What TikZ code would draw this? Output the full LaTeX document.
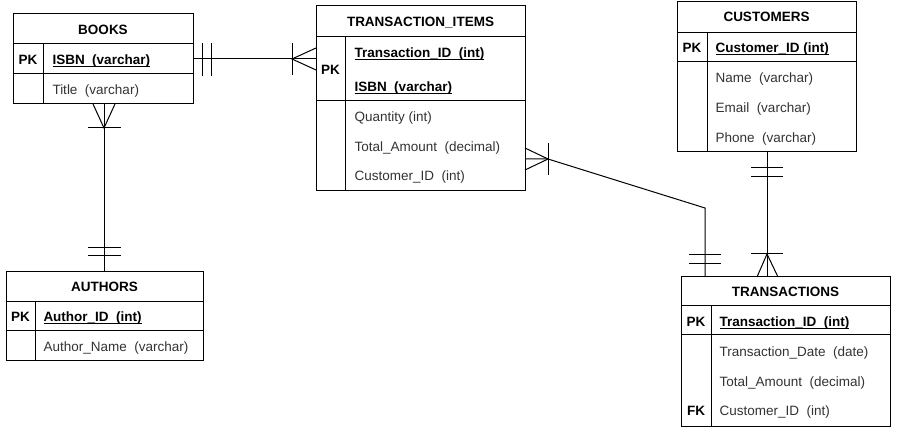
\documentclass[tikz,border=0pt]{standalone}
\usepackage{fontspec}
\setmainfont{Liberation Sans}
\newcommand{\ulk}[1]{\setbox0\hbox{#1}\rlap{\rule[-2pt]{\wd0}{0.9pt}}\box0}
\newcommand{\fsz}{\fontsize{13.5}{16}\selectfont}
\definecolor{fieldtxt}{HTML}{333333}
\begin{document}
\begin{tikzpicture}[x=1pt,y=-1pt,line width=1pt,
  tbl/.style={draw,line width=1pt,inner sep=0pt,outer sep=0pt,anchor=north west},
  hdr/.style={font=\fsz\bfseries,anchor=base,inner sep=0pt},
  pk/.style={font=\fsz\bfseries,anchor=base,inner sep=0pt},
  key/.style={font=\fsz\bfseries,anchor=base west,inner sep=0pt},
  fld/.style={font=\fsz,text=fieldtxt,anchor=base west,inner sep=0pt},
  rel/.style={draw,line width=1pt}]
\fill[white] (0,0) rectangle (907,427);

% ---------- BOOKS ----------
\node[tbl,minimum width=180pt,minimum height=90pt] (books) at (13,14) {};
\draw (13,44) -- (193,44);
\draw (13,74) -- (193,74);
\draw (43,44) -- (43,104);
\node[hdr] (booksh) at (103,34.5) {BOOKS};
\node[pk] (booksk) at (28,64.5) {PK};
\node[key] (books1) at (52,64.5) {\ulk{ISBN\ \ (varchar)}};
\node[fld] (books2) at (52,94.5) {Title\ \ (varchar)};

% ---------- TRANSACTION_ITEMS ----------
\node[tbl,minimum width=209pt,minimum height=185pt] (ti) at (316,6) {};
\draw (316,37) -- (525,37);
\draw (316,101) -- (525,101);
\draw (345,37) -- (345,191);
\node[hdr] (tih) at (420.5,26.5) {TRANSACTION\_ITEMS};
\node[pk] (tik) at (330.5,75) {PK};
\node[key] (ti1) at (354,57.5) {\ulk{Transaction\_ID\ \ (int)}};
\node[key] (ti2) at (354,92) {\ulk{ISBN\ \ (varchar)}};
\node[fld] (ti3) at (354,121.5) {Quantity (int)};
\node[fld] (ti4) at (354,151.5) {Total\_Amount\ \ (decimal)};
\node[fld] (ti5) at (354,181) {Customer\_ID\ \ (int)};

% ---------- CUSTOMERS ----------
\node[tbl,minimum width=179pt,minimum height=150pt] (cust) at (677,2) {};
\draw (677,33) -- (856,33);
\draw (677,62) -- (856,62);
\draw (707,33) -- (707,152);
\node[hdr] (custh) at (766.5,22) {CUSTOMERS};
\node[pk] (custk) at (692,52.5) {PK};
\node[key] (cust1) at (715,52.5) {\ulk{Customer\_ID (int)}};
\node[fld] (cust2) at (715,83) {Name\ \ (varchar)};
\node[fld] (cust3) at (715,113) {Email\ \ (varchar)};
\node[fld] (cust4) at (715,142.5) {Phone\ \ (varchar)};

% ---------- TRANSACTIONS ----------
\node[tbl,minimum width=209pt,minimum height=149pt] (trans) at (681,277) {};
\draw (681,306) -- (890,306);
\draw (681,335) -- (890,335);
\draw (711,306) -- (711,426);
\node[hdr] (transh) at (785.5,296.5) {TRANSACTIONS};
\node[pk] (transk) at (696,326.5) {PK};
\node[key] (trans1) at (719,326.5) {\ulk{Transaction\_ID\ \ (int)}};
\node[fld] (trans2) at (719,356.5) {Transaction\_Date\ \ (date)};
\node[fld] (trans3) at (719,386) {Total\_Amount\ \ (decimal)};
\node[pk] (transf) at (696,415.5) {FK};
\node[fld] (trans4) at (719,415.5) {Customer\_ID\ \ (int)};

% ---------- AUTHORS ----------
\node[tbl,minimum width=197pt,minimum height=88pt] (auth) at (6,272) {};
\draw (6,302) -- (203,302);
\draw (6,331) -- (203,331);
\draw (35,302) -- (35,360);
\node[hdr] (authh) at (104.5,291.5) {AUTHORS};
\node[pk] (authk) at (20.5,321.5) {PK};
\node[key] (auth1) at (43,321.5) {\ulk{Author\_ID\ \ (int)}};
\node[fld] (auth2) at (43,351.5) {Author\_Name\ \ (varchar)};

% ---------- BOOKS -- TRANSACTION_ITEMS ----------
\coordinate (r1) at (0,59);
\coordinate (a1) at (books.east |- r1);
\coordinate (b1) at (ti.west |- r1);
\draw[rel] (a1) -- (b1);
\draw[rel] ([shift={(9,-16)}]a1) -- ++(0,33);
\draw[rel] ([shift={(18,-16)}]a1) -- ++(0,33);
\draw[rel] ([shift={(-24,-16)}]b1) -- ++(0,32);
\draw[rel] ([shift={(0,-11)}]b1) -- ([shift={(-24,0)}]b1) -- ([shift={(0,11)}]b1);

% ---------- BOOKS -- AUTHORS ----------
\coordinate (x2) at (104,0);
\coordinate (a2) at (books.south -| x2);
\coordinate (b2) at (auth.north -| x2);
\draw[rel] (a2) -- (b2);
\draw[rel] ([shift={(-11,0)}]a2) -- ([shift={(0,24)}]a2) -- ([shift={(11,0)}]a2);
\draw[rel] ([shift={(-16,24)}]a2) -- ++(33,0);
\draw[rel] ([shift={(-16,-24)}]b2) -- ++(33,0);
\draw[rel] ([shift={(-16,-16)}]b2) -- ++(33,0);

% ---------- TRANSACTION_ITEMS -- TRANSACTIONS ----------
\coordinate (y3) at (0,159);
\coordinate (a3) at (ti.east |- y3);
\coordinate (k3) at (705,208);
\coordinate (b3) at (trans.north -| k3);
\draw[rel] (a3) -- ++(23,0) -- (k3) -- (b3);
\draw[rel] ([shift={(0,-11)}]a3) -- ([shift={(23,0)}]a3) -- ([shift={(0,11)}]a3);
\draw[rel] ([shift={(23,-16)}]a3) -- ++(0,32);
\draw[rel] ([shift={(-16,-22)}]b3) -- ++(32,0);
\draw[rel] ([shift={(-16,-13)}]b3) -- ++(32,0);

% ---------- CUSTOMERS -- TRANSACTIONS ----------
\coordinate (x4) at (767,0);
\coordinate (a4) at (cust.south -| x4);
\coordinate (b4) at (trans.north -| x4);
\draw[rel] (a4) -- (b4);
\draw[rel] ([shift={(-16,16)}]a4) -- ++(32,0);
\draw[rel] ([shift={(-16,25)}]a4) -- ++(32,0);
\draw[rel] ([shift={(-10,0)}]b4) -- ([shift={(0,-23)}]b4) -- ([shift={(11,0)}]b4);
\draw[rel] ([shift={(-16,-23)}]b4) -- ++(32,0);
\end{tikzpicture}
\end{document}
